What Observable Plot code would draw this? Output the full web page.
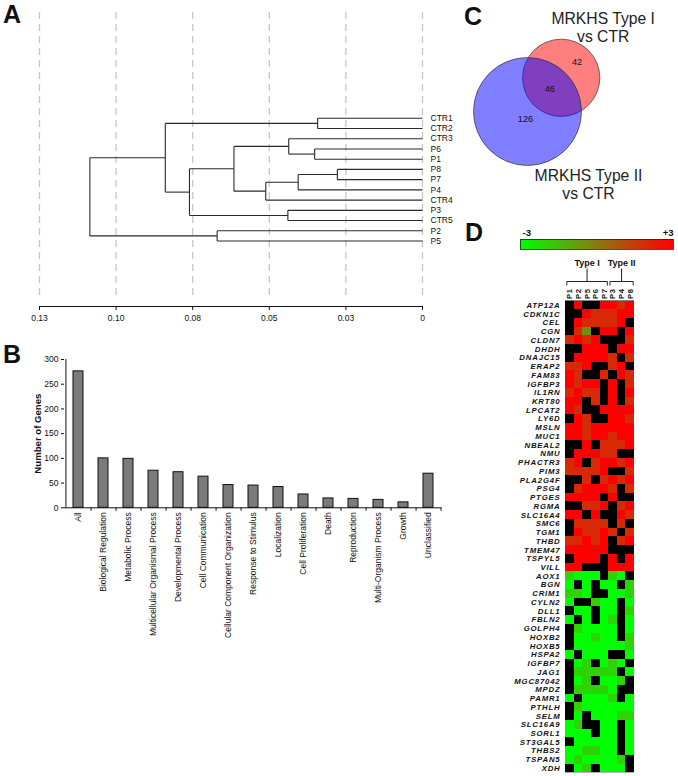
<!DOCTYPE html>
<html><head><meta charset="utf-8">
<script src="https://cdn.jsdelivr.net/npm/d3@7"></script>
<script src="https://cdn.jsdelivr.net/npm/@observablehq/plot@0.6"></script>
<style>
body{margin:0;background:#fff;}
#wrap{position:relative;width:678px;height:776px;overflow:hidden;background:#fff;font-family:"Liberation Sans",Arial,Helvetica,sans-serif;}
.panel{position:absolute;}
.panel svg{display:block;}
.letter{position:absolute;font-weight:bold;font-size:25px;line-height:1;color:#111;}
</style></head><body><div id="wrap"></div>
<script>
// ---------- Panel A: hierarchical clustering ----------
const leaves = ["CTR1","CTR2","CTR3","P6","P1","P8","P7","P4","CTR4","P3","CTR5","P2","P5"];
// [childA, childB, height]; numbers refer to earlier merges
const merges = [
  ["CTR1","CTR2",0.0356],
  ["P6","P1",0.0366],
  ["CTR3",1,0.0454],
  ["P8","P7",0.0289],
  [3,"P4",0.0422],
  [4,"CTR4",0.0532],
  [2,5,0.0640],
  ["P3","CTR5",0.0457],
  [6,7,0.0791],
  [0,8,0.0873],
  ["P2","P5",0.0697],
  [9,10,0.1129]
];
const distTicks = [0.13,0.104,0.078,0.052,0.026,0];
const distTickLabels = ["0.13","0.10","0.08","0.05","0.03","0"];

// ---------- Panel B: GO categories ----------
const goCategories = ["All","Biological Regulation","Metabolic Process","Multicellular Organismal Process","Developmental Process","Cell Communication","Cellular Component Organization","Response to Stimulus","Localization","Cell Proliferation","Death","Reproduction","Multi-Organism Process","Growth","Unclassified"];
const goCounts = [276,100,99,75,72,63,46,45,42,27,19,18,16,11,69];
const countTicks = [0,50,100,150,200,250,300];

// ---------- Panel C: Venn ----------
const vennLabels = ["MRKHS Type I\nvs CTR","MRKHS Type II\nvs CTR"];
const vennOnly = [42,126];
const vennShared = 46;

// ---------- Panel D: heatmap ----------
const samples = ["P1","P2","P5","P6","P7","P3","P4","P8"];
const sampleGroups = ["Type I","Type I","Type I","Type I","Type I","Type II","Type II","Type II"];
const genes = ["ATP12A","CDKN1C","CEL","CGN","CLDN7","DHDH","DNAJC15","ERAP2","FAM83","IGFBP3","IL1RN","KRT80","LPCAT2","LY6D","MSLN","MUC1","NBEAL2","NMU","PHACTR3","PIM3","PLA2G4F","PSG4","PTGES","RGMA","SLC16A4","SMC6","TGM1","THBD","TMEM47","TSPYL5","VILL","AOX1","BGN","CRIM1","CYLN2","DLL1","FBLN2","GOLPH4","HOXB2","HOXB5","HSPA2","IGFBP7","JAG1","MGC87042","MPDZ","PAMR1","PTHLH","SELM","SLC16A9","SORL1","ST3GAL5","THBS2","TSPAN5","XDH"];
const N = null;
const expr = [
  [N,3,N,N,3,3,2,3],
  [N,N,3,2,2,2,3,3],
  [N,3,2,2,2,2,3,N],
  [N,2,-0.5,N,3,3,N,3],
  [2,3,2,3,N,N,N,2],
  [N,N,3,3,3,N,3,3],
  [N,3,3,3,3,2,N,2],
  [2,2,3,N,N,2,3,N],
  [3,2,N,N,2,N,3,2],
  [3,2,3,3,N,3,N,2],
  [2,3,2,2,N,3,N,3],
  [3,3,N,2,N,3,N,2],
  [3,2,N,N,3,3,3,3],
  [N,3,2,N,N,3,3,2],
  [3,3,2,3,3,3,3,3],
  [3,3,2,3,3,2,3,3],
  [N,N,3,N,2,2,2,3],
  [N,3,3,3,2,2,N,N],
  [2,3,N,2,3,3,2,3],
  [2,2,2,2,3,N,N,2],
  [N,N,2,N,2,3,2,3],
  [N,2,3,3,3,2,N,2],
  [3,3,3,3,N,3,N,N],
  [N,N,2,2,3,N,2,3],
  [3,3,N,3,N,N,3,2],
  [N,2,2,2,2,N,2,N],
  [N,3,2,2,3,2,N,2],
  [2,2,3,2,3,N,2,3],
  [3,3,3,3,3,N,N,N],
  [N,3,3,3,N,3,N,3],
  [3,3,N,N,N,3,3,3],
  [-2,-3,-3,-3,N,-2,-3,N],
  [-3,N,-3,N,-3,-3,N,-2],
  [-2,-2,-3,N,N,-3,-3,-2],
  [-3,N,N,-2,-3,-3,N,-3],
  [N,-3,-3,N,-3,-3,N,-2],
  [-3,N,-3,N,-3,-2,N,-3],
  [N,-2,-3,-3,-3,-3,N,-3],
  [N,-3,-3,-2,-3,-3,N,-2],
  [N,-3,-3,-3,-3,-3,-3,-2],
  [-3,N,-3,-3,-3,N,N,-3],
  [N,-3,-2,N,-3,-2,-3,N],
  [N,-2,-2,-2,-2,-2,N,-3],
  [N,-3,-2,N,-3,-3,-2,N],
  [N,-2,-2,-2,-2,-3,N,N],
  [-3,N,-3,-3,-3,-2,N,-3],
  [N,-2,-3,-3,-3,-3,-3,-3],
  [N,-3,N,-3,-3,-3,-2,-2],
  [-3,-2,N,N,-3,-3,N,-3],
  [-3,-3,-3,N,-3,-3,N,-3],
  [N,-3,-3,-3,-3,-3,N,-3],
  [-3,-3,-2,-2,-3,-3,N,-3],
  [-3,-2,-3,-3,-3,-3,-2,N],
  [N,-3,-2,N,-3,-3,-3,N]
];
const colorDomain = [-3,3];
const colorEndLabels = ["-3","+3"];

// ---------- helpers ----------
const FONT = '"Liberation Sans", Arial, Helvetica, sans-serif';
const wrap = document.getElementById("wrap");
function place(node, left, top, w, h){
  const d = document.createElement("div");
  d.className = "panel";
  d.style.left = left+"px"; d.style.top = top+"px";
  d.style.width = w+"px"; d.style.height = h+"px";
  d.appendChild(node); wrap.appendChild(d);
}
function letter(t, left, top){
  const d = document.createElement("div");
  d.className = "letter"; d.textContent = t;
  d.style.left = left+"px"; d.style.top = top+"px";
  wrap.appendChild(d);
}
const baseStyle = (fs)=>({fontFamily:FONT,fontSize:fs,background:"transparent",color:"#111",overflow:"visible"});

// ---------- Panel A ----------
{
  const leafIdx = new Map(leaves.map((n,i)=>[n,i]));
  const clusters = [];
  const segs = [];
  const get = c => typeof c === "number" ? clusters[c] : {h:0, y:leafIdx.get(c)};
  merges.forEach(([a,b,h])=>{
    const A = get(a), B = get(b);
    segs.push({x1:A.h,y1:A.y,x2:h,y2:A.y});
    segs.push({x1:B.h,y1:B.y,x2:h,y2:B.y});
    segs.push({x1:h,y1:A.y,x2:h,y2:B.y});
    clusters.push({h, y:(A.y+B.y)/2});
  });
  const tickLab = new Map(distTicks.map((t,i)=>[t,distTickLabels[i]]));
  const yTop = -10.34, yBot = 18.4;
  const p = Plot.plot({
    width:470, height:330, marginLeft:39, marginRight:48, marginTop:12, marginBottom:24,
    style: baseStyle("8.5px"),
    x:{domain:[0.13,0], ticks:distTicks, tickFormat:d=>tickLab.get(d), tickSize:4, tickPadding:4, label:null},
    y:{domain:[yTop,yBot], reverse:true, axis:null},
    marks:[
      Plot.ruleX(distTicks,{x:d=>d, y1:yTop, y2:17.6, stroke:"#c6c6c6", strokeWidth:1.3, strokeDasharray:"7,5"}),
      Plot.ruleY([yBot],{stroke:"#111", strokeWidth:1}),
      Plot.link(segs,{x1:"x1",y1:"y1",x2:"x2",y2:"y2",stroke:"#2a2a2a",strokeWidth:1.1}),
      Plot.text(leaves,{x:0, y:(d,i)=>i, text:d=>d, dx:8, textAnchor:"start", fill:"#111"})
    ]
  });
  place(p, 0, 0, 470, 330);
  letter("A", 3, 2);
}

// ---------- Panel B ----------
{
  const left = 64, right = 441;
  const stepB = (right-left)/goCategories.length;
  const goData = goCategories.map((c,i)=>({c, n:goCounts[i]}));
  const p = Plot.plot({
    width:460, height:290, marginLeft:left, marginRight:460-right, marginTop:19, marginBottom:122.7,
    style: baseStyle("8.5px"),
    x:{domain:goCategories, paddingInner:0.6, paddingOuter:0.3, tickRotate:-90, tickSize:0, tickPadding:4.5, label:null},
    y:{domain:[0,300], ticks:countTicks, tickSize:3, tickPadding:3, label:null},
    marks:[
      Plot.barY(goData,{x:"c", y:"n", fill:"#7b7b7b", stroke:"#111", strokeWidth:1}),
      Plot.ruleY([0],{stroke:"#111"}),
      Plot.ruleX([goCategories[0]],{x:d=>d, y1:0, y2:300, dx:-stepB/2, stroke:"#111"}),
      Plot.ruleX(goCategories,{x:d=>d, y1:0, y2:-7, dx:stepB/2, stroke:"#111"}),
      Plot.text(["Number of Genes"],{frameAnchor:"left", rotate:-90, dx:-27, textAnchor:"middle", fontWeight:"bold", fontSize:9.6, fill:"#111"})
    ]
  });
  place(p, 0, 340, 460, 290);
  letter("B", 3, 342);
}

// ---------- Panel C ----------
{
  const areaI = vennOnly[0]+vennShared, areaII = vennOnly[1]+vennShared;
  const rI = Math.sqrt(areaI/Math.PI), rII = Math.sqrt(areaII/Math.PI);
  const clamp = v => Math.max(-1, Math.min(1, v));
  function lens(d, r1, r2){
    const a1 = Math.acos(clamp((d*d + r1*r1 - r2*r2)/(2*d*r1)));
    const a2 = Math.acos(clamp((d*d + r2*r2 - r1*r1)/(2*d*r2)));
    const s = Math.sqrt(Math.max(0,(-d+r1+r2)*(d+r1-r2)*(d-r1+r2)*(d+r1+r2)));
    return r1*r1*a1 + r2*r2*a2 - 0.5*s;
  }
  let lo = Math.abs(rII-rI)+1e-6, hi = rI+rII;
  for (let k=0;k<60;k++){ const m=(lo+hi)/2; if (lens(m,rI,rII) > vennShared) lo=m; else hi=m; }
  const dist = (lo+hi)/2;
  const bigR = 54, k = bigR/rII;
  const c2 = {x:67, y:111};
  const ang = Math.PI/4, ux = Math.cos(ang), uy = -Math.sin(ang);
  const c1 = {x:c2.x + ux*dist*k, y:c2.y + uy*dist*k};
  const along = t => ({x:c2.x + ux*t, y:c2.y + uy*t});
  const pShared = along(((dist - rI) + rII)/2*k);
  const pOnlyI = along((rII + dist + rI)/2*k);
  const pOnlyII = {x:c2.x - 2, y:c2.y + 8};
  const nums = [
    {...pOnlyI, t:String(vennOnly[0])},
    {...pShared, t:String(vennShared)},
    {...pOnlyII, t:String(vennOnly[1])}
  ];
  const labs = [
    {x:c1.x + 42, y:c1.y - 51, t:vennLabels[0]},
    {x:c2.x + 61, y:c2.y + 73, t:vennLabels[1]}
  ];
  const p = Plot.plot({
    width:218, height:220, margin:0,
    style: baseStyle("9px"),
    x:{domain:[0,218], range:[0,218], axis:null},
    y:{domain:[0,220], range:[0,220], axis:null},
    marks:[
      Plot.dot([c1],{x:"x", y:"y", r:rI*k, fill:"#ff0000", fillOpacity:0.5, stroke:"#333", strokeWidth:0.7}),
      Plot.dot([c2],{x:"x", y:"y", r:rII*k, fill:"#0000ff", fillOpacity:0.5, stroke:"#333", strokeWidth:0.7}),
      Plot.text(nums,{x:"x", y:"y", text:"t", fill:"#111", fontSize:9.2}),
      Plot.text(labs,{x:"x", y:"y", text:"t", fill:"#222", fontSize:15.7, lineHeight:1.15})
    ]
  });
  place(p, 460, 0, 218, 220);
  letter("C", 464, 4);
}

// ---------- Panel D ----------
{
  const interp = d3.piecewise(d3.interpolateRgb, ["#00ff00","#8a7a10","#ff0000"]);
  const colorOpt = {type:"linear", domain:colorDomain, interpolate:interp};
  // colour bar
  const stops = d3.range(colorDomain[0], colorDomain[1], 0.05);
  const bar = Plot.plot({
    width:218, height:32, marginLeft:60, marginRight:5, marginTop:19, marginBottom:3,
    style: baseStyle("9px"),
    x:{domain:colorDomain, axis:null},
    y:{domain:[0,1], axis:null},
    color: colorOpt,
    marks:[
      Plot.rect(stops,{x1:d=>d, x2:d=>Math.min(colorDomain[1], d+0.06), y1:0, y2:1, fill:d=>d+0.025, shapeRendering:"crispEdges"}),
      Plot.frame({stroke:"#222", strokeWidth:0.8}),
      Plot.text([colorEndLabels[0]],{x:colorDomain[0], y:1, dx:2, dy:-4, textAnchor:"start", lineAnchor:"bottom", fontWeight:"bold", fontSize:9.5, fill:"#111"}),
      Plot.text([colorEndLabels[1]],{x:colorDomain[1], y:1, dy:-4, textAnchor:"end", lineAnchor:"bottom", fontWeight:"bold", fontSize:9.5, fill:"#111"})
    ]
  });
  place(bar, 460, 220, 218, 32);

  const cells = [];
  genes.forEach((g,j)=>samples.forEach((s,i)=>{ if (expr[j][i] != null) cells.push({g,s,i,j,v:expr[j][i]}); }));
  const groups = [];
  sampleGroups.forEach((g,i)=>{
    const last = groups[groups.length-1];
    if (last && last.name === g) last.end = i+1; else groups.push({name:g, start:i, end:i+1});
  });
  const inset = 0.15;
  const yH = -2.23, yEnd = -1.77, yMid = -3.72, yLab = -4.33;
  const bracketSegs = [];
  groups.forEach(g=>{
    const a = g.start+inset, b = g.end-inset, m = (g.start+g.end)/2;
    bracketSegs.push({x1:a,y1:yH,x2:b,y2:yH});
    bracketSegs.push({x1:a,y1:yH,x2:a,y2:yEnd});
    bracketSegs.push({x1:b,y1:yH,x2:b,y2:yEnd});
    bracketSegs.push({x1:m,y1:yH,x2:m,y2:yMid});
  });
  const p = Plot.plot({
    width:218, height:526, margin:0,
    style: baseStyle("10px"),
    x:{domain:[0,samples.length], range:[105,174], axis:null},
    y:{domain:[0,genes.length], range:[50.5,522.3], axis:null},
    color: colorOpt,
    marks:[
      Plot.rect([0],{x1:0, x2:samples.length, y1:0, y2:genes.length, fill:"#000"}),
      Plot.rect(cells,{x1:"i", x2:d=>d.i+1, y1:"j", y2:d=>d.j+1, fill:"v", shapeRendering:"crispEdges"}),
      Plot.text(genes,{x:0, y:(d,i)=>i+0.5, text:d=>d, dx:-5, textAnchor:"end", fontStyle:"italic", fontWeight:"bold", fontSize:7.8, fill:"#111"}),
      Plot.text(samples,{x:(d,i)=>i+0.5, y:0, text:d=>d, dy:-2, rotate:-90, textAnchor:"start", fontWeight:"bold", fontSize:7.6, fill:"#111"}),
      Plot.link(bracketSegs,{x1:"x1",y1:"y1",x2:"x2",y2:"y2",stroke:"#222",strokeWidth:1}),
      Plot.text(groups,{x:d=>(d.start+d.end)/2, y:yLab, text:"name", fontWeight:"bold", fontSize:9, fill:"#111"})
    ]
  });
  // widen spacing of the small labels to match the reference's label lengths
  const textGroups = p.querySelectorAll('g[aria-label="text"]');
  if (textGroups[0]) textGroups[0].setAttribute("letter-spacing", "0.8");
  if (textGroups[1]) textGroups[1].setAttribute("letter-spacing", "0.6");
  place(p, 460, 250, 218, 526);
  letter("D", 465, 220);
}
</script></body></html>
